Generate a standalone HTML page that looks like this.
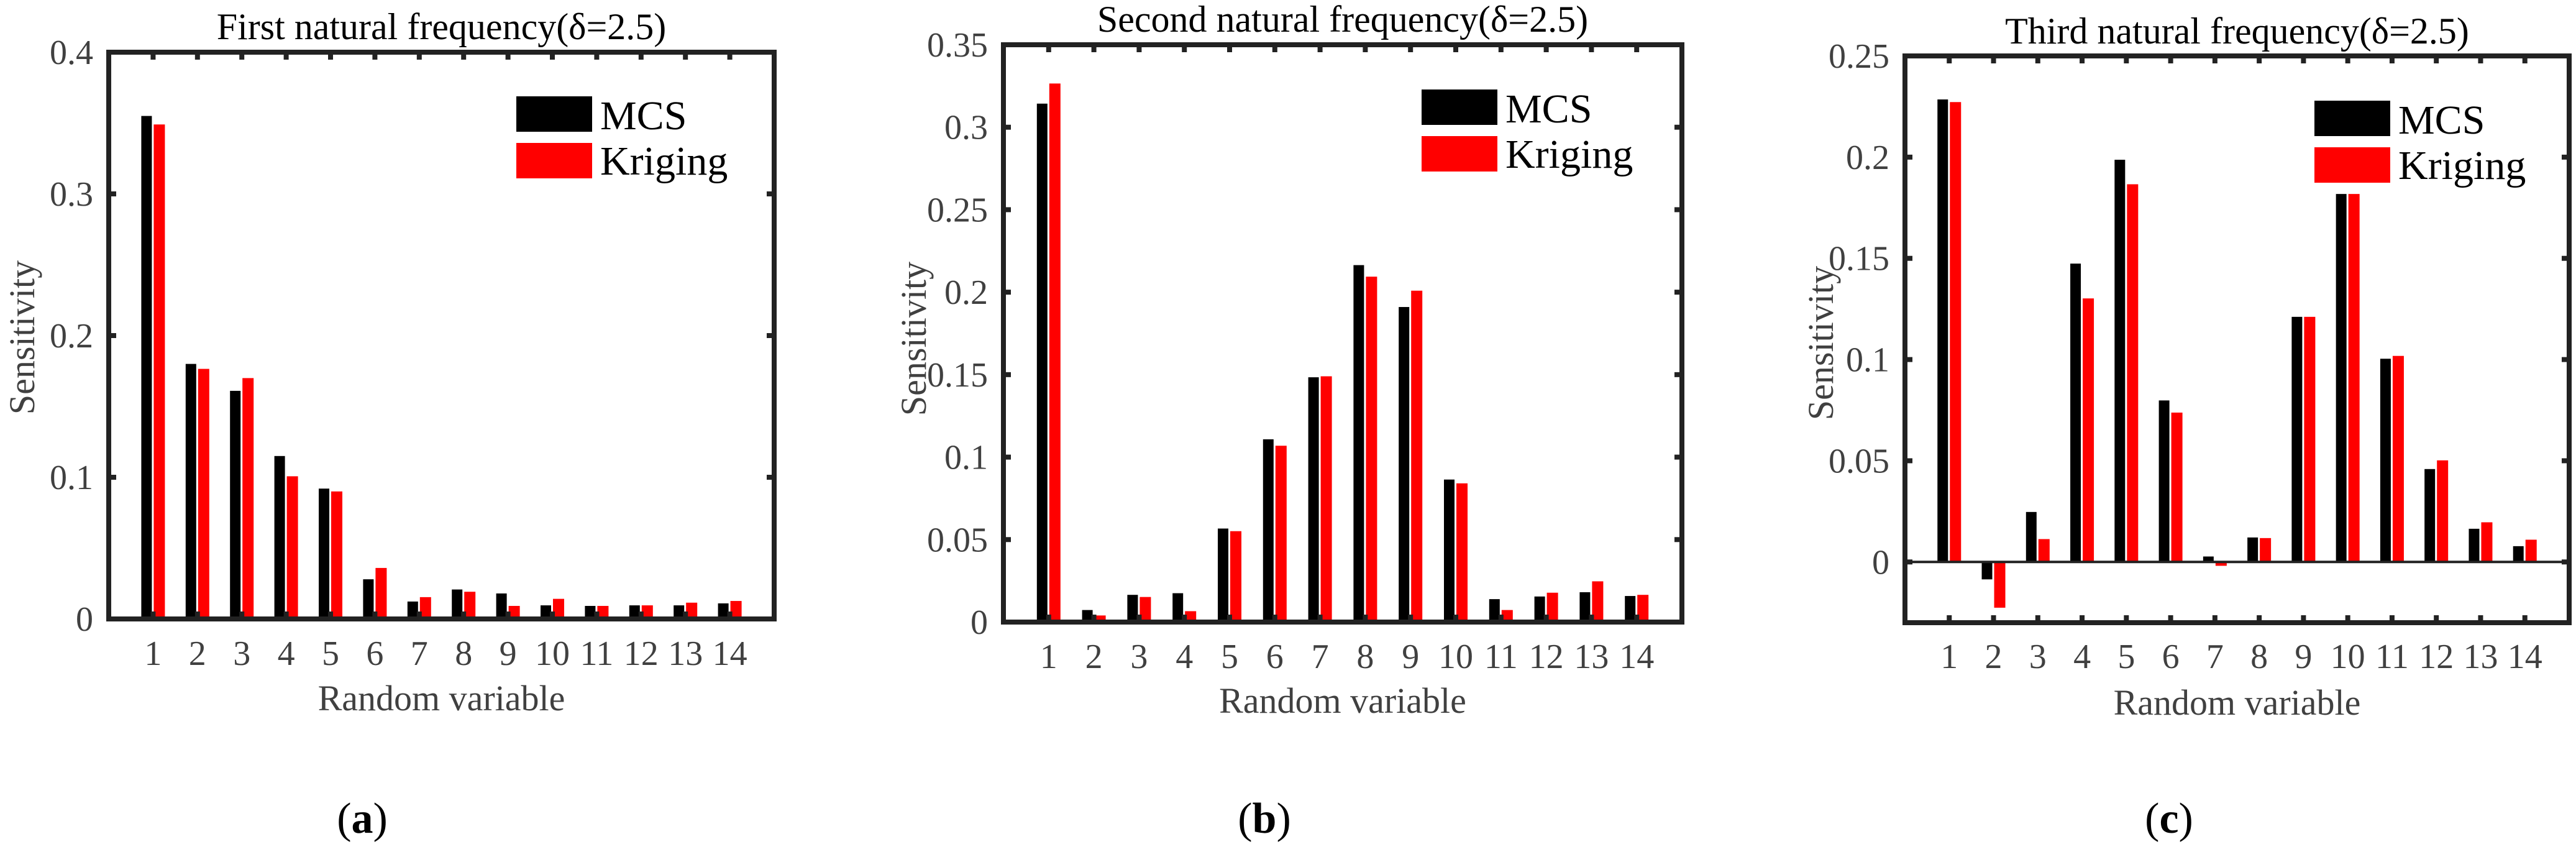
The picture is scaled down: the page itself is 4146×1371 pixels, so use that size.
<!DOCTYPE html>
<html><head><meta charset="utf-8"><style>
html,body{margin:0;padding:0;background:#fff;}
svg{display:block;}
svg text, svg tspan{font-family:"Liberation Serif","Times New Roman",serif !important;}
</style></head><body>
<svg id="fig" width="4146" height="1371" viewBox="0 0 4146 1371" xmlns="http://www.w3.org/2000/svg" font-family="'Liberation Serif', serif"></svg>
<script>
const categories = [1,2,3,4,5,6,7,8,9,10,11,12,13,14];
const mcsA = [0.355,0.180,0.161,0.115,0.092,0.028,0.0123,0.0208,0.018,0.0096,0.0092,0.0096,0.0096,0.011];
const krgA = [0.349,0.1765,0.170,0.1007,0.090,0.036,0.0154,0.0192,0.0092,0.0142,0.0092,0.0096,0.0115,0.0127];
const ticksA = [0,0.1,0.2,0.3,0.4];
const tickLabelsA = ["0","0.1","0.2","0.3","0.4"];
const mcsB = [0.3143,0.0073,0.0165,0.0175,0.0567,0.1108,0.1484,0.2164,0.191,0.0864,0.0139,0.0155,0.0181,0.0158];
const krgB = [0.3265,0.004,0.0152,0.0066,0.0551,0.1069,0.149,0.2094,0.2009,0.0841,0.0073,0.0178,0.0247,0.0165];
const ticksB = [0,0.05,0.1,0.15,0.2,0.25,0.3,0.35];
const tickLabelsB = ["0","0.05","0.1","0.15","0.2","0.25","0.3","0.35"];
const mcsC = [0.2285,-0.0086,0.0247,0.1474,0.1987,0.0798,0.0027,0.0121,0.1211,0.1818,0.1004,0.0459,0.0164,0.0078];
const krgC = [0.2272,-0.0226,0.0113,0.1302,0.1866,0.0738,-0.0019,0.0118,0.1211,0.1818,0.1018,0.0502,0.0196,0.011];
const ticksC = [0,0.05,0.1,0.15,0.2,0.25];
const tickLabelsC = ["0","0.05","0.1","0.15","0.2","0.25"];

const NS="http://www.w3.org/2000/svg";
const svg=document.getElementById('fig');
const FF="Liberation Serif, serif";
function mk(tag,attrs,parent){const e=document.createElementNS(NS,tag);for(const k in attrs)e.setAttribute(k,attrs[k]);if(tag==='text')e.setAttribute('font-family',FF);(parent||svg).appendChild(e);return e;}

function chart(o){
  const g=mk('g',{});
  
  
  const xs=v=>o.L+(v/15)*(o.R-o.L);
  const ys=v=>o.B-(v-o.ymin)/(o.ymax-o.ymin)*(o.B-o.T);
  categories.forEach((c,i)=>{
    const cx=xs(c);
    [[o.mcs[i],-19,17,'#000','mcs'],[o.krg[i],1,18,'#ff0000','kriging']].forEach(([v,off,w,col,nm])=>{
      const y0=ys(0),y1=ys(v);
      const r=mk('rect',{x:cx+off,y:Math.min(y0,y1),width:w,height:Math.max(1,Math.abs(y1-y0)),fill:col},g);
      
      
    });
  });
  if(o.ymin<0){
    const z=mk('line',{x1:o.L,x2:o.R,y1:ys(0),y2:ys(0),stroke:'#222',"stroke-width":4},g);
    
    
  }
  categories.forEach(c=>{
    const cx=xs(c);
    mk('line',{x1:cx,x2:cx,y1:o.B,y2:o.B-12,stroke:'#222',"stroke-width":8},g);
    mk('line',{x1:cx,x2:cx,y1:o.T,y2:o.T+12,stroke:'#222',"stroke-width":8},g);
    const t=mk('text',{x:cx,y:o.tickY,"text-anchor":"middle","font-size":56,fill:'#404040'},g);
    t.textContent=c;
    
    
  });
  o.ticks.forEach((v,i)=>{
    const y=ys(v);
    mk('line',{x1:o.L,x2:o.L+12,y1:y,y2:y,stroke:'#222',"stroke-width":8},g);
    mk('line',{x1:o.R,x2:o.R-12,y1:y,y2:y,stroke:'#222',"stroke-width":8},g);
    const t=mk('text',{x:o.L-25,y:y+19,"text-anchor":"end","font-size":56,fill:'#404040'},g);
    t.textContent=o.tickLabels[i];
    
    
  });
  const box=mk('rect',{x:o.L,y:o.T,width:o.R-o.L,height:o.B-o.T,fill:'none',stroke:'#222',"stroke-width":8},g);
  
  
  const title=mk('text',{x:(o.L+o.R)/2,y:o.titleY,"text-anchor":"middle","font-size":60,fill:'#000'},g);
  title.textContent=o.title;
  
  
  const xl=mk('text',{x:(o.L+o.R)/2,y:o.xlabY,"text-anchor":"middle","font-size":58,fill:'#404040'},g);
  xl.textContent='Random variable';
  
  
  const yl=mk('text',{x:0,y:0,"text-anchor":"middle","font-size":58,fill:'#404040',transform:`translate(${o.ylabX},${o.ylabYc}) rotate(-90)`},g);
  yl.textContent='Sensitivity';
  
  
  const lg=mk('g',{},g);
  
  
  mk('rect',{x:o.lgX,y:o.lgY,width:122,height:57,fill:'#000'},lg);
  mk('rect',{x:o.lgX,y:o.lgY+75,width:122,height:57,fill:'#ff0000'},lg);
  const t1=mk('text',{x:o.lgX+135,y:o.lgY+53,"font-size":66,fill:'#000'},lg);
  t1.textContent='MCS';
  
  
  const t2=mk('text',{x:o.lgX+135,y:o.lgY+126,"font-size":66,fill:'#000'},lg);
  t2.textContent='Kriging';
  
  
  const cap=mk('text',{x:o.capX,y:1340,"text-anchor":"middle","font-size":70,fill:'#000'},g);
  cap.innerHTML='(<tspan font-weight="bold">'+o.cap+'</tspan>)';
  
  
}

chart({name:'chart-a',L:175,R:1246,T:84,B:996,ymin:0,ymax:0.4,mcs:mcsA,krg:krgA,ticks:ticksA,tickLabels:tickLabelsA,
  title:'First natural frequency(\u03b4=2.5)',titleY:63,tickY:1070,xlabY:1143,ylabX:55,ylabYc:543,lgX:831,lgY:155,capX:583,cap:'a'});
chart({name:'chart-b',L:1615,R:2707,T:72,B:1001,ymin:0,ymax:0.35,mcs:mcsB,krg:krgB,ticks:ticksB,tickLabels:tickLabelsB,
  title:'Second natural frequency(\u03b4=2.5)',titleY:51,tickY:1075,xlabY:1147,ylabX:1490,ylabYc:545,lgX:2288,lgY:144,capX:2035,cap:'b'});
chart({name:'chart-c',L:3066,R:4135,T:90,B:1002,ymin:-0.03,ymax:0.25,mcs:mcsC,krg:krgC,ticks:ticksC,tickLabels:tickLabelsC,
  title:'Third natural frequency(\u03b4=2.5)',titleY:70,tickY:1075,xlabY:1150,ylabX:2950,ylabYc:552,lgX:3725,lgY:162,capX:3491,cap:'c'});
</script>
</body></html>
